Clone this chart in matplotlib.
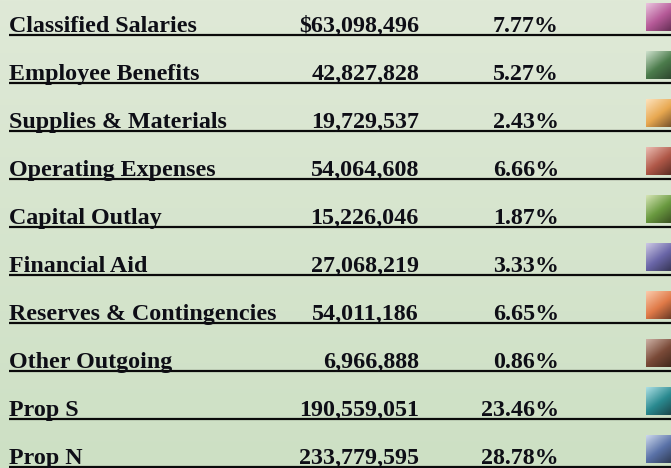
import numpy as np
import matplotlib.pyplot as plt
from matplotlib.colors import to_rgb

categories = ['Classified Salaries', 'Employee Benefits', 'Supplies & Materials',
              'Operating Expenses', 'Capital Outlay', 'Financial Aid',
              'Reserves & Contingencies', 'Other Outgoing', 'Prop S', 'Prop N']
amounts = [63098496, 42827828, 19729537, 54064608, 15226046,
           27068219, 54011186, 6966888, 190559051, 233779595]
percents = [7.77, 5.27, 2.43, 6.66, 1.87, 3.33, 6.65, 0.86, 23.46, 28.78]

# light / mid / dark tone of each swatch
swatches = [('#eac4de', '#b65a98', '#58284a'),
            ('#cde0cc', '#4c7c4c', '#2a3e2a'),
            ('#fde2bc', '#e8a850', '#664626'),
            ('#ebbcb2', '#b05848', '#4e261e'),
            ('#d4e4b4', '#6a9a40', '#34461e'),
            ('#ccc8e4', '#6a66a8', '#2e2e48'),
            ('#fbcbac', '#e07a48', '#583020'),
            ('#ccb0a4', '#7a4a38', '#3a2418'),
            ('#acdfe4', '#2a8a90', '#1a3c40'),
            ('#ccd8ec', '#5a72a8', '#2a3448')]

W, H = 671, 468
fig = plt.figure(figsize=(W / 100, H / 100), dpi=100)
ax = fig.add_axes([0, 0, 1, 1])
ax.set_xlim(0, W)
ax.set_ylim(H, 0)
ax.axis('off')

# background gradient
top = np.array(to_rgb('#dfe9d7'))
bot = np.array(to_rgb('#cde0c4'))
t = np.linspace(0, 1, 200)[:, None, None]
bg = top * (1 - t) + bot * t
ax.imshow(bg, extent=[0, W, H, 0], aspect='auto', zorder=0)

def swatch_img(light, mid, dark, n=40):
    l, m, d = (np.array(to_rgb(c)) for c in (light, mid, dark))
    yy, xx = np.mgrid[0:n, 0:n] / (n - 1)
    s = (xx * 0.9 + yy * 1.1) / 2.0
    s = np.clip(s, 0, 1)[..., None]
    img = np.where(s < 0.5, l * (1 - s / 0.5) + m * (s / 0.5),
                   m * (1 - (s - 0.5) / 0.5) + d * ((s - 0.5) / 0.5))
    return img

fs = 17.3
font = dict(family='Liberation Serif', fontweight='bold', fontsize=fs,
            color='#0e0e16', va='baseline')
row_h = 48
for i, (cat, amt, pct) in enumerate(zip(categories, amounts, percents)):
    y0 = i * row_h
    amt_txt = ('$' if i == 0 else '') + f'{amt:,}'
    ax.text(9, y0 + 32, cat, ha='left', **font)
    ax.text(419, y0 + 32, amt_txt, ha='right', **font)
    ax.text(559, y0 + 32, f'{pct:.2f}%', ha='right', **font)
    ax.plot([9, W], [y0 + 35, y0 + 35], color='#0a0a0a', lw=1.6,
            solid_capstyle='butt', zorder=2)
    ax.imshow(swatch_img(*swatches[i]), extent=[646, 676, y0 + 31, y0 + 3],
              aspect='auto', zorder=3, interpolation='bilinear')

ax.set_xlim(0, W)
ax.set_ylim(H, 0)
fig.savefig('out.png', dpi=100)
